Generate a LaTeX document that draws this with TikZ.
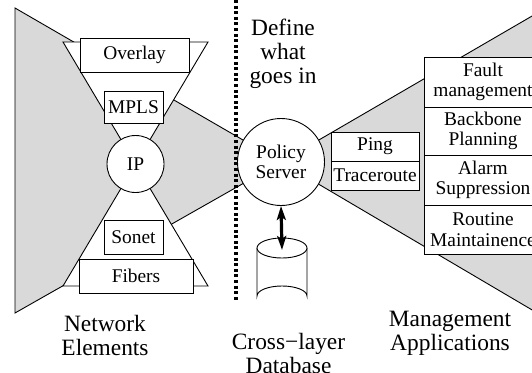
\documentclass[tikz,border=0pt]{standalone}
\usepackage{fontspec}
\setmainfont{Liberation Serif}
\usetikzlibrary{arrows.meta}
\definecolor{gfill}{HTML}{D9D9D9}
\begin{document}
\begin{tikzpicture}[x=1pt,y=-1pt,
  ln/.style={line width=0.9pt},
  smalltxt/.style={font=\fontsize{19.4}{20.5}\selectfont},
  bigtxt/.style={font=\fontsize{23.4}{24}\selectfont, align=center},
  boxn/.style={ln, draw, fill=white, smalltxt, inner sep=0pt, align=center},
  circn/.style={ln, draw, fill=white, circle, smalltxt, inner sep=0pt, align=center}]
\useasboundingbox (0,0) rectangle (532,372);
% left gray wedge
\filldraw[ln, fill=gfill] (15,8) -- (281,162) -- (15,313) -- cycle;
% right gray wedge
\fill[gfill] (281,162) -- (540,11.4) -- (540,314.6) -- cycle;
\draw[ln] (281,162) -- (540,11.4);
\draw[ln] (281,162) -- (540,314.6);
% hourglass
\filldraw[ln, fill=white] (63,42) -- (208,42) -- (135.5,164) -- cycle;
\filldraw[ln, fill=white] (63,286) -- (208,286) -- (135.5,164) -- cycle;
\node[boxn, minimum width=109, minimum height=34] (overlay) at (134.5,55) {Overlay};
\node[boxn, minimum width=59, minimum height=32] (mpls) at (133.5,107) {MPLS};
\node[circn, minimum size=57] (ip) at (135.5,164) {IP};
\node[boxn, minimum width=59, minimum height=34] (sonet) at (133.5,237) {Sonet};
\node[boxn, minimum width=114, minimum height=34] (fibers) at (136,276) {Fibers};
% dotted separator
\draw[line width=3.2pt, dash pattern=on 3pt off 2.6pt] (236,0) -- (236,302);
\node[bigtxt] (define) at (283,54) {Define\\what\\goes in};
% policy server
\node[circn, minimum size=87] (ps) at (281,162) {Policy\\Server};
\node[boxn, minimum width=88, minimum height=29] (ping) at (375,146.5) {Ping};
\node[boxn, minimum width=88, minimum height=29] (trace) at (375,175.5) {Traceroute};
% management stack
\node[boxn, minimum width=118, minimum height=50] (fault) at (483,82) {Fault\\management};
\node[boxn, minimum width=118, minimum height=48] (backbone) at (483,131) {Backbone\\Planning};
\node[boxn, minimum width=118, minimum height=50] (alarm) at (483,180) {Alarm\\Suppression};
\node[boxn, minimum width=118, minimum height=49] (routine) at (483,229.5) {Routine\\Maintainence};
% database cylinder
\node[minimum width=50, minimum height=70, inner sep=0pt] (db) at (282,273) {};
\draw[ln, fill=white] (257,248) -- (257,296) arc[start angle=180, end angle=360, x radius=25, y radius=10] -- (307,248);
\draw[ln, fill=white] (282,248) ellipse[x radius=25, y radius=10];
\coordinate (dbtop) at (282,250);
\draw[line width=3.2pt, {Stealth[length=14pt,width=9pt,inset=3pt]}-{Stealth[length=14pt,width=9pt,inset=3pt]}] (ps.south) -- (dbtop);
% labels
\node[bigtxt] (ne) at (105,335) {Network\\Elements};
\node[bigtxt] (cl) at (288.5,353) {Cross−layer\\Database};
\node[bigtxt] (ma) at (450,333) {Management\\Applications};
\end{tikzpicture}
\end{document}
